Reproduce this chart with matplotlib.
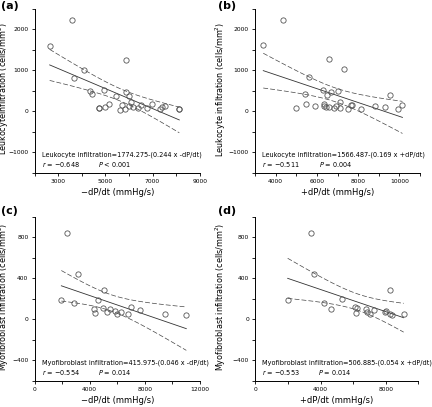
import numpy as np
import matplotlib
matplotlib.use('Agg')
import matplotlib.pyplot as plt
from matplotlib.ticker import MultipleLocator

# (a) Leukocyte vs -dP/dt
a_x = [2635, 3568, 3653, 4105, 4331, 4445, 4741, 4741, 4954, 4996, 5166, 5463, 5632, 5703, 5859,
       5887, 5844, 6000, 6014, 6085, 6184, 6382, 6495, 6778, 6976, 7315, 7414, 7527, 8135, 8135]
a_y = [1591, 2239, 820, 1017, 484, 410, 90, 80, 517, 115, 172, 385, 41, 156, 459,
       1263, 57, 377, 123, 221, 98, 82, 156, 90, 172, 49, 115, 139, 49, 45]
# (b) Leukocyte vs +dP/dt
b_x = [3400, 4366, 6594, 7331, 5595, 5431, 4972, 5464, 5906, 6299, 6332, 6348, 6447, 6512, 6594,
       6692, 6823, 6938, 7036, 7118, 7135, 7528, 7659, 7724, 8150, 8805, 9313, 9559, 9919, 10149]
b_y = [1607, 2239, 1279, 1033, 828, 418, 82, 172, 131, 525, 180, 123, 98, 394, 98,
       459, 82, 131, 492, 221, 90, 57, 164, 148, 57, 131, 98, 394, 57, 148]
# (c) Myofibroblast vs -dP/dt
c_x = [2349, 3124, 1937, 2834, 5064, 4603, 4336, 4409, 4967, 5233, 5476, 5839, 5960, 6251,
       6809, 7003, 7633, 9500, 11026]
c_y = [842, 439, 185, 159, 289, 192, 101, 65, 114, 75, 98, 85, 52, 68, 55, 117, 88, 52, 42]
# (d) Myofibroblast vs +dP/dt
d_x = [3438, 3622, 1986, 4194, 5319, 4624, 6117, 6260, 6178, 6812, 6833, 7037, 7303, 7937,
       8039, 8264, 8284, 8407, 9102]
d_y = [842, 439, 185, 159, 195, 98, 117, 111, 65, 101, 68, 52, 88, 75, 85, 55, 289, 42, 52]

intercepts = [1774.275, 1566.487, 415.975, 506.885]
slopes = [-0.244, -0.169, -0.046, -0.054]
t_vals = [2.048, 2.048, 2.110, 2.110]

panel_tags = ['(a)', '(b)', '(c)', '(d)']
xlabels = ['\u2212dP/dt (mmHg/s)', '+dP/dt (mmHg/s)', '\u2212dP/dt (mmHg/s)', '+dP/dt (mmHg/s)']
ylabels = ['Leukocyteinfiltration (cells/mm$^2$)', 'Leukocyte infiltration (cells/mm$^2$)',
           'Myofibroblast infiltration (cells/mm$^2$)', 'Myofibroblast infiltration (cells/mm$^2$)']
equations = ['Leukocyte infiltration=1774.275-(0.244 x -dP/dt)',
             'Leukocyte infiltration=1566.487-(0.169 x +dP/dt)',
             'Myofibroblast infiltration=415.975-(0.046 x -dP/dt)',
             'Myofibroblast infiltration=506.885-(0.054 x +dP/dt)']
r_texts = ['\u22120.648', '\u22120.511', '\u22120.554', '\u22120.553']
p_texts = ['< 0.001', '= 0.004', '= 0.014', '= 0.014']

xlims = [(2000, 9000), (3000, 11000), (0, 12000), (0, 10000)]
ylims = [(-1500, 2500), (-1500, 2500), (-600, 1000), (-600, 1000)]
xmajor = [2000, 2000, 4000, 4000]
xminor = [1000, 1000, 2000, 2000]
ymajor = [1000, 1000, 400, 400]
yminor = [500, 500, 200, 200]

W, H = 432, 407
boxes = [(34.7, 8.8, 165, 164), (255, 8.8, 165, 164),
         (34.7, 216.8, 165, 164), (255.3, 216.8, 163, 164)]
ylabel_x = [-0.144, -0.164, -0.145, -0.166]

plt.rcParams['font.family'] = 'DejaVu Sans'
fig = plt.figure(figsize=(W / 100, H / 100), dpi=100)

data = [(a_x, a_y), (b_x, b_y), (c_x, c_y), (d_x, d_y)]
for i, (xs, ys) in enumerate(data):
    l, t, w, h = boxes[i]
    ax = fig.add_axes([l / W, 1 - (t + h) / H, w / W, h / H])
    x = np.array(xs, float)
    y = np.array(ys, float)
    b0, b1 = intercepts[i], slopes[i]

    # regression line + 95% confidence band of the mean
    n = len(x)
    res = y - (b0 + b1 * x)
    s = np.sqrt(np.sum(res ** 2) / (n - 2))
    sxx = np.sum((x - x.mean()) ** 2)
    xx = np.linspace(x.min(), x.max(), 100)
    yy = b0 + b1 * xx
    half = t_vals[i] * s * np.sqrt(1 / n + (xx - x.mean()) ** 2 / sxx)
    ax.plot(xx, yy, color='#333333', lw=0.6)
    ax.plot(xx, yy + half, color='#444444', lw=0.5, dashes=(7, 3))
    ax.plot(xx, yy - half, color='#444444', lw=0.5, dashes=(7, 3))

    ax.plot(x, y, 'o', ms=3.8, mfc='none', mec='#555555', mew=0.6)

    ax.set_xlim(*xlims[i])
    ax.set_ylim(*ylims[i])
    ax.xaxis.set_major_locator(MultipleLocator(xmajor[i]))
    ax.xaxis.set_minor_locator(MultipleLocator(xminor[i]))
    ax.yaxis.set_major_locator(MultipleLocator(ymajor[i]))
    ax.yaxis.set_minor_locator(MultipleLocator(yminor[i]))
    if i == 0:
        ax.set_xticks([3000, 5000, 7000, 9000])
    ax.spines['top'].set_visible(False)
    ax.spines['right'].set_visible(False)
    for sp in ('left', 'bottom'):
        ax.spines[sp].set_linewidth(0.7)
    ax.tick_params(which='both', direction='out', length=2.5, width=0.6, labelsize=4.3, pad=2)

    ax.set_xlabel(xlabels[i], fontsize=6, labelpad=3)
    ax.set_ylabel(ylabels[i], fontsize=5.8)
    ax.yaxis.set_label_coords(ylabel_x[i], 0.51)

    ax.text(0.042, 0.109, equations[i], transform=ax.transAxes, fontsize=4.7, va='center')
    ax.text(0.042, 0.048, '$r$ = ' + r_texts[i], transform=ax.transAxes, fontsize=4.7, va='center')
    ax.text(0.385, 0.048, '$P$ ' + p_texts[i], transform=ax.transAxes, fontsize=4.7, va='center')

    tx = 1 / W if i % 2 == 0 else 218 / W
    ty = 1 - (1 if i < 2 else 206) / H
    fig.text(tx, ty, panel_tags[i], fontsize=8, fontweight='bold', va='top', ha='left')

fig.savefig('out.png', dpi=100)
